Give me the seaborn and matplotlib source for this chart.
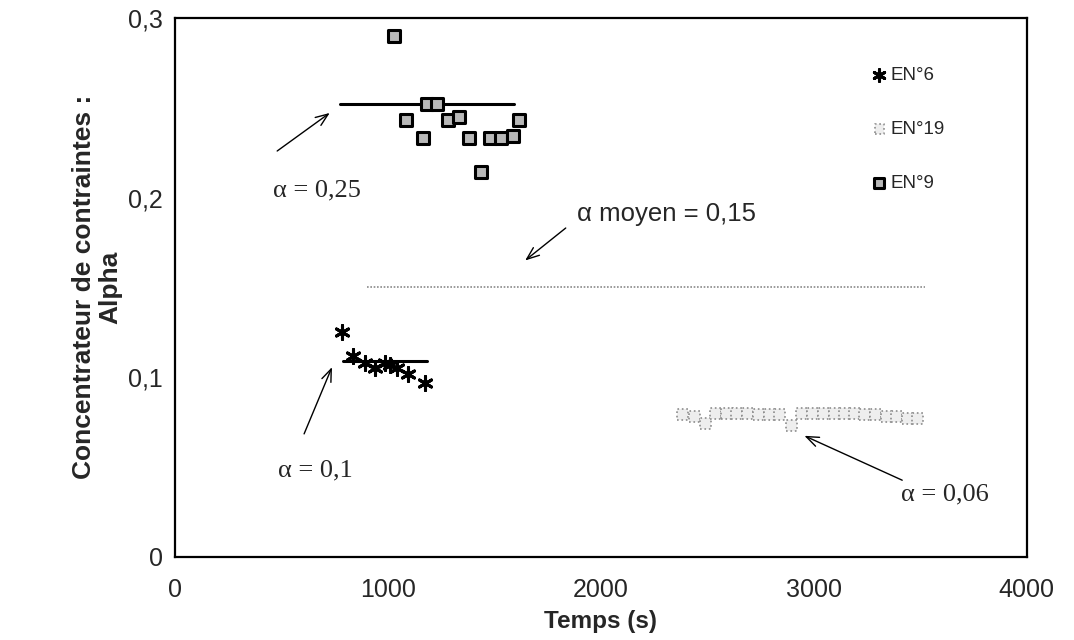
import matplotlib
matplotlib.use("Agg")
import matplotlib.pyplot as plt
import seaborn as sns
from matplotlib.ticker import FuncFormatter

# EN°6 (asterisks)
en6_t = [785, 836, 892, 939, 986, 1009, 1042, 1094, 1174]
en6_alpha = [0.125, 0.112, 0.108, 0.105, 0.108, 0.107, 0.105, 0.102, 0.097]

# EN°19 (light squares)
en19_t = [2385, 2441, 2493, 2540, 2592, 2638, 2690, 2742, 2793, 2840, 2897, 2944,
          2995, 3047, 3099, 3146, 3192, 3239, 3291, 3343, 3390, 3441, 3488]
en19_alpha = [0.079, 0.078, 0.074, 0.080, 0.080, 0.080, 0.080, 0.079, 0.079, 0.079,
              0.073, 0.080, 0.080, 0.080, 0.080, 0.080, 0.080, 0.079, 0.079, 0.078,
              0.078, 0.077, 0.077]

# EN°9 (dark squares)
en9_t = [1028, 1085, 1164, 1183, 1230, 1282, 1333, 1380, 1437, 1479, 1531, 1587, 1615]
en9_alpha = [0.290, 0.243, 0.233, 0.252, 0.252, 0.243, 0.245, 0.233, 0.214, 0.233,
             0.233, 0.234, 0.243]

# mean lines
mean9_t = [775, 1590]
mean9_alpha = [0.252, 0.252]
mean6_t = [789, 1183]
mean6_alpha = [0.109, 0.109]
mean_all_t = [900, 3520]
mean_all_alpha = [0.150, 0.150]

sns.set_style("white")
plt.rcParams['font.family'] = ['Liberation Sans', 'DejaVu Sans']

fig = plt.figure(figsize=(10.74, 6.4), dpi=100)
ax = fig.add_axes([0.163, 0.13, 0.793, 0.842])

sns.lineplot(x=mean9_t, y=mean9_alpha, ax=ax, color='black', linewidth=2.2)
sns.lineplot(x=mean6_t, y=mean6_alpha, ax=ax, color='black', linewidth=2.2)
sns.lineplot(x=mean_all_t, y=mean_all_alpha, ax=ax, color='#8a8a8a', linewidth=1.2,
             linestyle=(0, (1, 1)))

sns.scatterplot(x=en6_t, y=en6_alpha, ax=ax, marker=(6, 2, 0), s=100, color='black',
                linewidth=2.2, label='EN°6', zorder=5)
sns.scatterplot(x=en19_t, y=en19_alpha, ax=ax, marker='s', s=64, facecolor='#eeeeee',
                edgecolor='#8c8c8c', linewidth=1.2, linestyle=':', label='EN°19', zorder=4)
sns.scatterplot(x=en9_t, y=en9_alpha, ax=ax, marker='s', s=85, facecolor='#b8b8b8',
                edgecolor='black', linewidth=2.2, label='EN°9', zorder=5)

ax.set_xlim(0, 4000)
ax.set_ylim(0, 0.3)
ax.set_xticks([0, 1000, 2000, 3000, 4000])
ax.set_yticks([0, 0.1, 0.2, 0.3])
ax.yaxis.set_major_formatter(FuncFormatter(lambda v, p: ('%g' % round(v, 2)).replace('.', ',')))
ax.tick_params(axis='both', labelsize=18, direction='inout', length=6, width=1)
ax.tick_params(axis='x', pad=12)
ax.tick_params(axis='y', pad=6)
for sp in ax.spines.values():
    sp.set_linewidth(1.6)
    sp.set_color('black')

ax.set_xlabel('Temps (s)', fontsize=17.5, fontweight='bold', labelpad=6)
ax.set_ylabel('Concentrateur de contraintes :\nAlpha', fontsize=19, fontweight='bold',
              labelpad=4, linespacing=1.1)

leg = ax.legend(loc='upper left', bbox_to_anchor=(0.796, 0.94), frameon=False,
                fontsize=13.5, labelspacing=1.95, handletextpad=0.1, markerscale=0.85,
                handlelength=1.0)

serif = ['Liberation Serif', 'DejaVu Serif']
arrow = dict(arrowstyle='->,head_width=0.35,head_length=0.9', color='black', lw=1.0)
ax.annotate('', xy=(737, 0.248), xytext=(469, 0.225), arrowprops=arrow)
ax.text(667, 0.204, 'α = 0,25', family=serif, fontsize=19, ha='center', va='center')
ax.annotate('', xy=(1634, 0.164), xytext=(1845, 0.184), arrowprops=arrow)
ax.text(1890, 0.191, 'α moyen = 0,15', fontsize=18.5, ha='left', va='center')
ax.annotate('', xy=(742, 0.107), xytext=(601, 0.067), arrowprops=arrow)
ax.text(657, 0.048, 'α = 0,1', family=serif, fontsize=19, ha='center', va='center')
ax.annotate('', xy=(2944, 0.068), xytext=(3427, 0.042), arrowprops=arrow)
ax.text(3615, 0.0345, 'α = 0,06', family=serif, fontsize=19, ha='center', va='center')

fig.savefig('out.png', dpi=100)
